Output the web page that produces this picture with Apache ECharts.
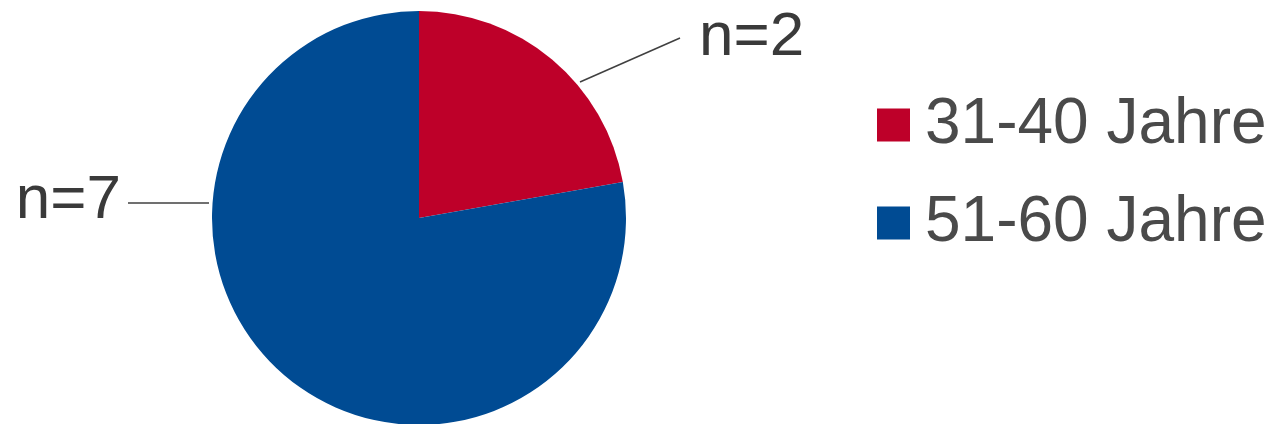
<!DOCTYPE html>
<html><head><meta charset="utf-8">
<script src="https://cdn.jsdelivr.net/npm/echarts@6/dist/echarts.min.js"></script>
<style>html,body{margin:0;padding:0;background:#fff}#c{width:1268px;height:424px}</style>
</head><body><div id="c"></div>
<script>
const categories = ['31-40 Jahre', '51-60 Jahre'];
const values = [2, 7];
const labelTexts = ['n=2', 'n=7'];
const colors = ['#BE0029', '#004B93'];

const chart = echarts.init(document.getElementById('c'), null, {renderer: 'canvas'});
const font = '"Liberation Sans", Arial, sans-serif';
chart.setOption({
  animation: false,
  color: colors,
  legend: {
    orient: 'vertical', left: 872, top: 88,
    itemWidth: 33, itemHeight: 33, itemGap: 34,
    icon: 'rect',
    textStyle: {fontSize: 64, color: '#4a4a4a', fontFamily: font, padding: [0,0,0,10]},
    data: categories
  },
  series: [{
    type: 'pie',
    center: [419, 218], radius: 207,
    startAngle: 90, clockwise: true,
    itemStyle: {borderWidth: 0},
    label: {
      show: true, fontSize: 62, color: '#3a3a3a', fontFamily: font,
      formatter: p => labelTexts[p.dataIndex]
    },
    labelLine: {show: true, lineStyle: {color: '#404040', width: 1.5}},
    labelLayout: function (p) {
      if (p.dataIndex === 0) {
        return {x: 699, y: 38, align: 'left', verticalAlign: 'middle',
          labelLinePoints: [[580, 82], [680, 38], [680, 38]]};
      }
      return {x: 121, y: 201, align: 'right', verticalAlign: 'middle',
        labelLinePoints: [[209, 203], [128, 203], [128, 203]]};
    },
    data: categories.map((c, i) => ({name: c, value: values[i]}))
  }]
});
</script></body></html>
